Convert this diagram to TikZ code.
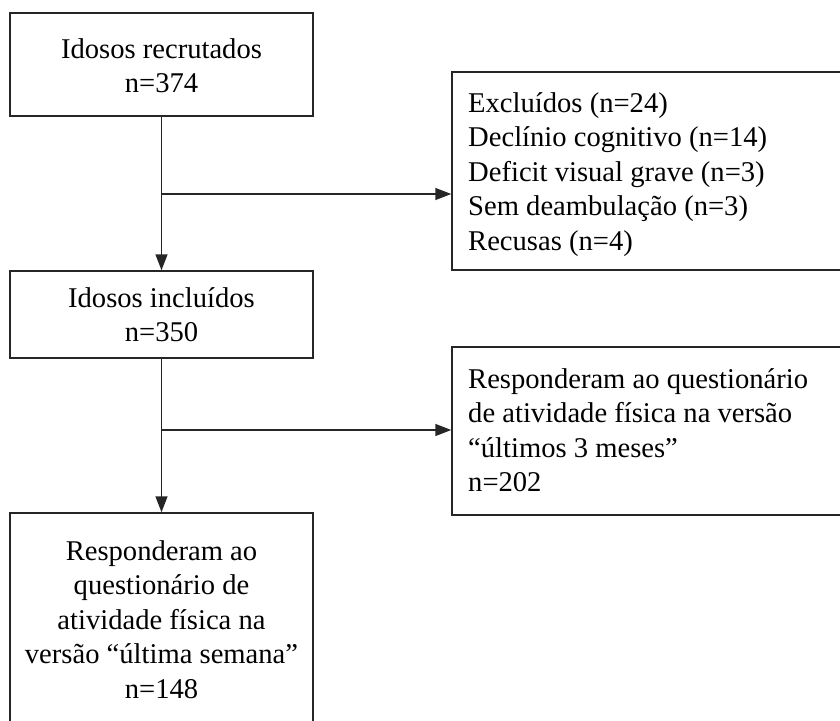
\documentclass[tikz,border=0pt]{standalone}
\usepackage{fontspec}
\setmainfont{Liberation Serif}
\usetikzlibrary{arrows.meta}
\tikzset{
  box/.style={draw=black!85, line width=1.5pt, inner sep=0pt, rectangle},
  conn/.style={draw=black!85, line width=1.5pt},
  arr/.style={conn, -{Triangle[length=16pt,width=12pt]}},
  txt/.style={inner sep=0pt, anchor=base, font=\fontsize{28.6}{34.5}\selectfont},
  ltxt/.style={txt, anchor=base west}
}
\begin{document}
\begin{tikzpicture}[x=1pt,y=-1pt]
\useasboundingbox (0,0) rectangle (840,720);
\clip (0,0) rectangle (840,720);
% boxes
\node[box, minimum width=303pt, minimum height=103pt] (b1) at (161.5,64.5) {};
\node[box, minimum width=303pt, minimum height=87pt] (b2) at (161.5,314.5) {};
\node[box, minimum width=303pt, minimum height=217pt] (b4) at (161.5,621.5) {};
\node[box, minimum width=408pt, minimum height=198pt] (ex) at (656,171) {};
\node[box, minimum width=408pt, minimum height=168pt] (b3) at (656,431) {};
% texts
\node[txt] (t1) at (161.5,58) {\begin{tabular}[t]{@{}c@{}}Idosos recrutados\\ n=374\end{tabular}};
\node[txt] (t2) at (161.5,307) {\begin{tabular}[t]{@{}c@{}}Idosos incluídos\\ n=350\end{tabular}};
\node[txt] (t4) at (161.5,560) {\begin{tabular}[t]{@{}c@{}}Responderam ao\\ questionário de\\ atividade física na\\ versão “última semana”\\ n=148\end{tabular}};
\node[ltxt] (tex) at (468,112) {\begin{tabular}[t]{@{}l@{}}Excluídos (n=24)\\ Declínio cognitivo (n=14)\\ Deficit visual grave (n=3)\\ Sem deambulação (n=3)\\ Recusas (n=4)\end{tabular}};
\node[ltxt] (t3) at (468,388) {\begin{tabular}[t]{@{}l@{}}Responderam ao questionário\\ de atividade física na versão\\ “últimos 3 meses”\\ n=202\end{tabular}};
% connectors
\coordinate (j1) at (161.5,194);
\coordinate (j2) at (161.5,430);
\draw[arr] (b1.south) -- (b2.north);
\draw[arr] (b2.south) -- (b4.north);
\draw[arr] (j1) -- (j1 -| ex.west);
\draw[arr] (j2) -- (j2 -| b3.west);
\end{tikzpicture}
\end{document}
